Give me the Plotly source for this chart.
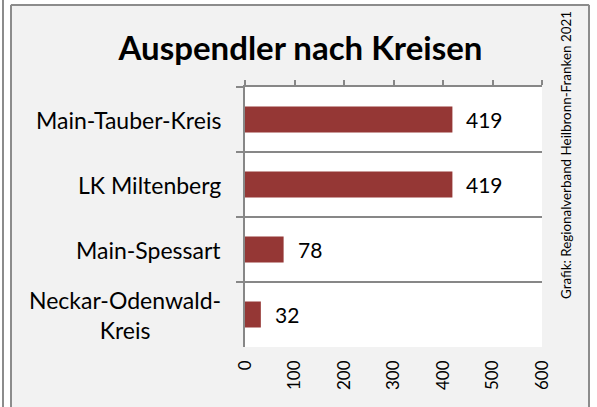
import plotly.graph_objects as go

categories = ["Main-Tauber-Kreis", "LK Miltenberg", "Main-Spessart", "Neckar-Odenwald-<br>Kreis"]
values = [419, 419, 78, 32]
x_ticks = [0, 100, 200, 300, 400, 500, 600]
title_text = "Auspendler nach Kreisen"
source_text = "Grafik: Regionalverband Heilbronn-Franken 2021"

W, H = 597, 407
L, R, T, B = 245, 542, 87, 347
PW, PH = R - L, B - T

def px(x):
    return (x - L) / PW

def py(y):
    return (B - y) / PH

FONT = "Lato"
BAR = "#953735"
GRAY = "#878787"

fig = go.Figure()
fig.add_trace(go.Bar(
    x=values, y=categories, orientation="h", width=0.4,
    marker=dict(color=BAR, line=dict(width=0)),
    hoverinfo="skip", showlegend=False,
))
fig.add_trace(go.Scatter(
    x=values, y=categories, xaxis="x2", mode="markers",
    marker=dict(opacity=0), hoverinfo="skip", showlegend=False,
))

annotations = []
for c, v in zip(categories, values):
    annotations.append(dict(
        x=v, y=c, xref="x", yref="y", text=str(v), showarrow=False,
        xanchor="left", yanchor="middle", xshift=12,
        font=dict(family=FONT, size=21, color="#000000"),
    ))
    annotations.append(dict(
        x=px(223), y=c, xref="paper", yref="y", text=c, showarrow=False,
        xanchor="right", yanchor="middle", align="center",
        font=dict(family=FONT, size=23, color="#000000"),
    ))
annotations.append(dict(
    x=px(566), y=py(155), xref="paper", yref="paper", text=source_text,
    showarrow=False, textangle=-90, xanchor="center", yanchor="middle",
    font=dict(family=FONT, size=13.4, color="#000000"),
))

shapes = []
# white areas outside the frame
for (x0, y0, x1, y1) in [(0, 0, 10, H + 5), (0, 0, W, 4), (590, 0, W, H + 5)]:
    shapes.append(dict(type="rect", xref="paper", yref="paper",
                       x0=px(x0), x1=px(x1), y0=py(y0), y1=py(y1),
                       fillcolor="white", line=dict(width=0), layer="above"))
# frame lines
for (x0, y0, x1, y1) in [(11, 5, 11, H + 5), (11, 5, 589, 5), (589, 5, 589, H + 5), (3, 0, 3, H + 5)]:
    shapes.append(dict(type="line", xref="paper", yref="paper",
                       x0=px(x0), x1=px(x1), y0=py(y0), y1=py(y1),
                       line=dict(color="#8c8c8c", width=2), layer="above"))

fig.update_layout(
    width=W, height=H,
    margin=dict(l=L, r=W - R, t=T, b=H - B, pad=0),
    paper_bgcolor="#f2f2f2", plot_bgcolor="white",
    title=dict(text="<b>" + title_text + "</b>", x=300.5 / W, y=1 - 48 / H,
               xanchor="center", yanchor="middle",
               font=dict(family=FONT, size=33, color="#000000")),
    bargap=0.6,
    xaxis=dict(range=[0, 600], tickvals=x_ticks, ticktext=[str(t) for t in x_ticks],
               tickangle=-90, showgrid=False, zeroline=False, showline=False,
               ticks="", ticklabelstandoff=9,
               tickfont=dict(family=FONT, size=17, color="#000000"), fixedrange=True),
    xaxis2=dict(range=[0, 600], overlaying="x", side="top", tickvals=x_ticks,
                showticklabels=False, ticks="outside", ticklen=5, tickwidth=2,
                tickcolor=GRAY, showline=True, linecolor=GRAY, linewidth=2,
                showgrid=False, zeroline=False, fixedrange=True),
    yaxis=dict(categoryorder="array", categoryarray=categories, autorange="reversed",
               tickson="boundaries", ticks="outside", ticklen=7, tickwidth=2, tickcolor=GRAY,
               showgrid=True, gridcolor=GRAY, gridwidth=2,
               showline=True, linecolor=GRAY, linewidth=2,
               showticklabels=False, fixedrange=True),
    annotations=annotations, shapes=shapes,
)

fig.write_html("out.html", config={"displayModeBar": False},
               post_script="document.body.style.margin='0';document.body.style.overflow='hidden';")
